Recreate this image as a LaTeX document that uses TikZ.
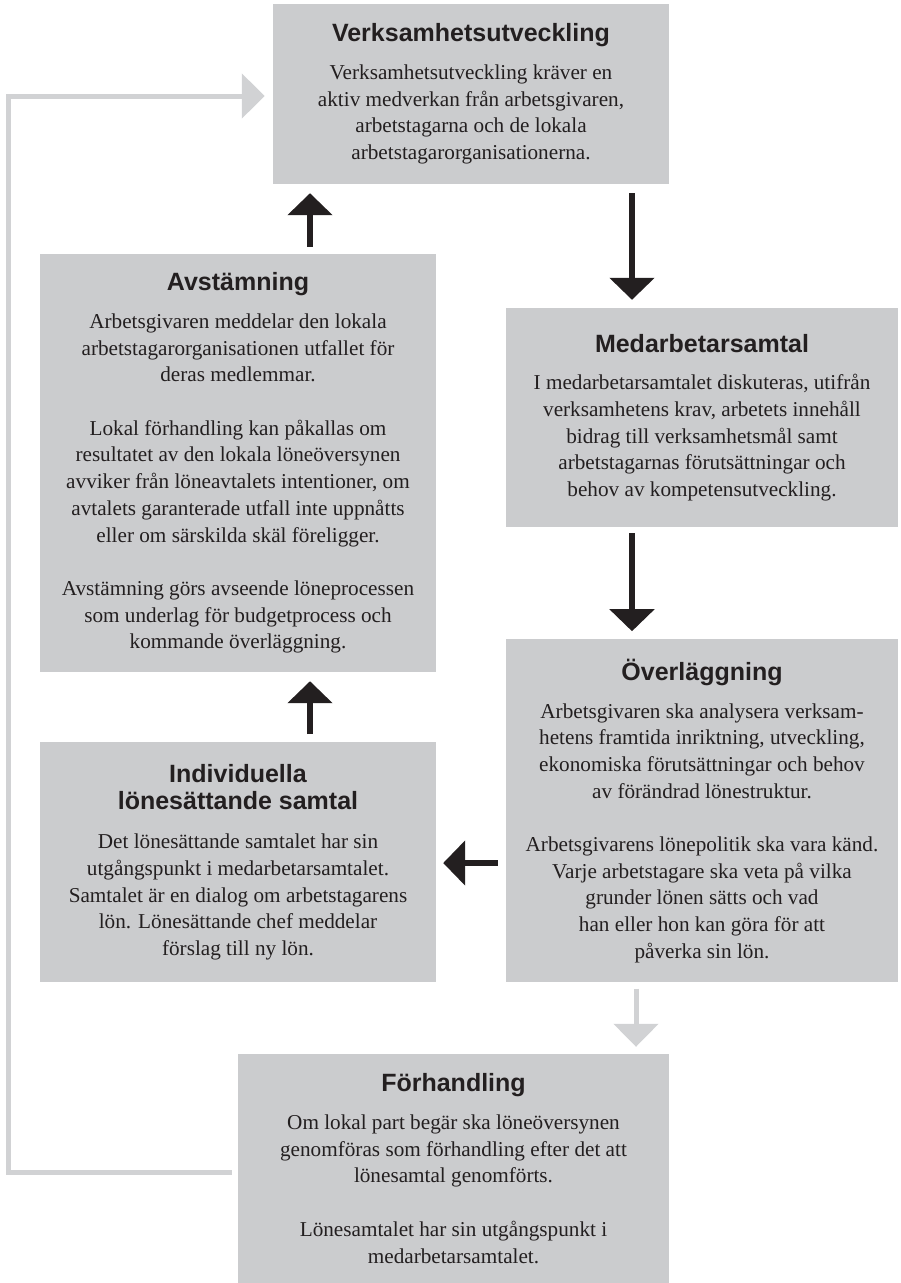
\documentclass[tikz,border=0pt]{standalone}
\usepackage{fontspec}
\setmainfont{Liberation Serif}
\newfontfamily\headsans{Liberation Sans}
\usetikzlibrary{positioning,arrows.meta}
\definecolor{textcolor}{RGB}{35,31,32}
\definecolor{boxgray}{RGB}{203,204,206}
\definecolor{linkgray}{RGB}{209,210,212}
\newcommand{\boxhead}[1]{{\headsans\bfseries\fontsize{25}{27}\selectfont #1}}

\begin{document}
\begin{tikzpicture}[
    x=1pt, y=-1pt,
    box/.style={fill=boxgray, inner sep=0pt, align=center, font=\fontsize{21.2}{26.7}\selectfont},
    blk/.style={draw=textcolor, line width=6pt, -{Triangle[width=44pt,length=22pt]}},
    lightblk/.style={draw=linkgray, line width=5pt, -{Triangle[width=44pt,length=23pt]}},
    every node/.style={text=textcolor}
]
\useasboundingbox (0,0) rectangle (900,1283);

% Boxes
\node[box, minimum width=396pt, minimum height=180pt] (verks) at (471,94)
  {\boxhead{Verksamhetsutveckling}\\[11pt]
   Verksamhetsutveckling kräver en\\
   aktiv medverkan från arbetsgivaren,\\
   arbetstagarna och de lokala\\
   arbetstagarorganisationerna.};

\node[box, minimum width=396pt, minimum height=418pt] (avst) at (238,463)
  {\boxhead{Avstämning}\\[11pt]
   Arbetsgivaren meddelar den lokala\\
   arbetstagarorganisationen utfallet för\\
   deras medlemmar.\\[26.7pt]
   Lokal förhandling kan påkallas om\\
   resultatet av den lokala löneöversynen\\
   avviker från löneavtalets intentioner, om\\
   avtalets garanterade utfall inte uppnåtts\\
   eller om särskilda skäl föreligger.\\[26.7pt]
   Avstämning görs avseende löneprocessen\\
   som underlag för budgetprocess och\\
   kommande överläggning.};

\node[box, minimum width=392pt, minimum height=219pt] (medarb) at (702,417.5)
  {\boxhead{Medarbetarsamtal}\\[11pt]
   I medarbetarsamtalet diskuteras, utifrån\\
   verksamhetens krav, arbetets innehåll\\
   bidrag till verksamhetsmål samt\\
   arbetstagarnas förutsättningar och\\
   behov av kompetensutveckling.};

\node[box, minimum width=392pt, minimum height=343pt, below=112pt of medarb] (overl)
  {\boxhead{Överläggning}\\[11pt]
   Arbetsgivaren ska analysera verksam-\\
   hetens framtida inriktning, utveckling,\\
   ekonomiska förutsättningar och behov\\
   av förändrad lönestruktur.\\[26.7pt]
   Arbetsgivarens lönepolitik ska vara känd.\\
   Varje arbetstagare ska veta på vilka\\
   grunder lönen sätts och vad\\
   han eller hon kan göra för att\\
   påverka sin lön.};

\node[box, minimum width=396pt, minimum height=240pt, below=70pt of avst] (indiv)
  {\boxhead{Individuella}\\[0.3pt]
   \boxhead{lönesättande samtal}\\[12pt]
   Det lönesättande samtalet har sin\\
   utgångspunkt i medarbetarsamtalet.\\
   Samtalet är en dialog om arbetstagarens\\
   lön. Lönesättande chef meddelar\\
   förslag till ny lön.};

\node[box, minimum width=431pt, minimum height=229pt] (forh) at (453.5,1168.5)
  {\boxhead{Förhandling}\\[11pt]
   Om lokal part begär ska löneöversynen\\
   genomföras som förhandling efter det att\\
   lönesamtal genomförts.\\[26.7pt]
   Lönesamtalet har sin utgångspunkt i\\
   medarbetarsamtalet.};

% Arrow lanes
\coordinate (rcol) at (632,0);
\coordinate (lcol) at (310,0);
\coordinate (gcol) at (636,0);
\coordinate (arow) at (0,863);
\coordinate (loopbot) at (8,1172);
\coordinate (looptop) at (8,96);

% Connections
\draw[blk, shorten <=9pt, shorten >=8pt] (verks.south -| rcol) -- (medarb.north -| rcol);
\draw[blk, shorten <=6pt, shorten >=8pt] (medarb.south -| rcol) -- (overl.north -| rcol);
\draw[blk, shorten <=8pt, shorten >=7pt] (overl.west |- arow) -- (indiv.east |- arow);
\draw[blk, shorten <=8pt, shorten >=9pt] (indiv.north -| lcol) -- (avst.south -| lcol);
\draw[blk, shorten <=7pt, shorten >=9pt] (avst.north -| lcol) -- (verks.south -| lcol);

\draw[lightblk, shorten <=6pt, shorten >=7pt] (overl.south -| gcol) -- (forh.north -| gcol);
\draw[lightblk] ([xshift=-6pt]forh.west |- loopbot) -- (loopbot) -- (looptop) -- ([xshift=-8pt]verks.west |- looptop);

\end{tikzpicture}
\end{document}
